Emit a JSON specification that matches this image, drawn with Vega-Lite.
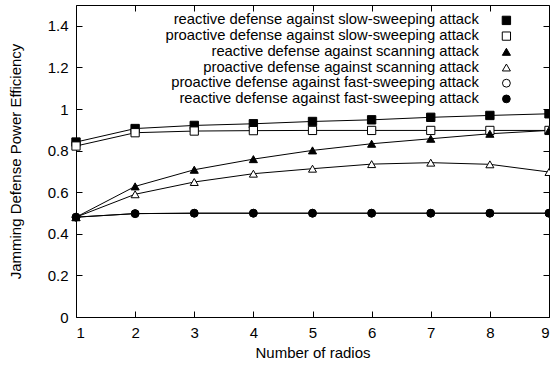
{
  "$schema": "https://vega.github.io/schema/vega-lite/v6.json",
  "width": 473,
  "height": 312,
  "autosize": "none",
  "padding": {"left": 76, "top": 5, "right": 1, "bottom": 50},
  "background": "white",
  "config": {
    "font": "Liberation Sans",
    "view": {"stroke": "black", "strokeWidth": 1},
    "axis": {"grid": false, "domain": false, "ticks": true, "zindex": 1, "tickOpacity": 1, "tickColor": "black", "tickWidth": 1, "tickSize": -6, "labelColor": "black", "labelFontSize": 15, "labelFont": "Liberation Sans", "titleFont": "Liberation Sans", "titleFontSize": 15, "titleColor": "black", "titleFontWeight": "normal"},
    "legend": {"title": null, "orient": "none", "legendX": 423, "legendY": 8, "labelAlign": "right", "labelOffset": -35, "labelFontSize": 14.8, "labelFont": "Liberation Sans", "labelColor": "black", "labelLimit": 0, "rowPadding": -0.3, "symbolStrokeWidth": 1, "padding": 0}
  },
  "data": {"values": [
    {"radios": 1, "value": 0.841, "series": "reactive defense against slow-sweeping attack"},
    {"radios": 2, "value": 0.906, "series": "reactive defense against slow-sweeping attack"},
    {"radios": 3, "value": 0.921, "series": "reactive defense against slow-sweeping attack"},
    {"radios": 4, "value": 0.929, "series": "reactive defense against slow-sweeping attack"},
    {"radios": 5, "value": 0.940, "series": "reactive defense against slow-sweeping attack"},
    {"radios": 6, "value": 0.948, "series": "reactive defense against slow-sweeping attack"},
    {"radios": 7, "value": 0.960, "series": "reactive defense against slow-sweeping attack"},
    {"radios": 8, "value": 0.969, "series": "reactive defense against slow-sweeping attack"},
    {"radios": 9, "value": 0.977, "series": "reactive defense against slow-sweeping attack"},
    {"radios": 1, "value": 0.822, "series": "proactive defense against slow-sweeping attack"},
    {"radios": 2, "value": 0.886, "series": "proactive defense against slow-sweeping attack"},
    {"radios": 3, "value": 0.894, "series": "proactive defense against slow-sweeping attack"},
    {"radios": 4, "value": 0.896, "series": "proactive defense against slow-sweeping attack"},
    {"radios": 5, "value": 0.897, "series": "proactive defense against slow-sweeping attack"},
    {"radios": 6, "value": 0.897, "series": "proactive defense against slow-sweeping attack"},
    {"radios": 7, "value": 0.897, "series": "proactive defense against slow-sweeping attack"},
    {"radios": 8, "value": 0.897, "series": "proactive defense against slow-sweeping attack"},
    {"radios": 9, "value": 0.897, "series": "proactive defense against slow-sweeping attack"},
    {"radios": 1, "value": 0.48, "series": "reactive defense against scanning attack"},
    {"radios": 2, "value": 0.628, "series": "reactive defense against scanning attack"},
    {"radios": 3, "value": 0.708, "series": "reactive defense against scanning attack"},
    {"radios": 4, "value": 0.759, "series": "reactive defense against scanning attack"},
    {"radios": 5, "value": 0.801, "series": "reactive defense against scanning attack"},
    {"radios": 6, "value": 0.833, "series": "reactive defense against scanning attack"},
    {"radios": 7, "value": 0.857, "series": "reactive defense against scanning attack"},
    {"radios": 8, "value": 0.881, "series": "reactive defense against scanning attack"},
    {"radios": 9, "value": 0.897, "series": "reactive defense against scanning attack"},
    {"radios": 1, "value": 0.48, "series": "proactive defense against scanning attack"},
    {"radios": 2, "value": 0.590, "series": "proactive defense against scanning attack"},
    {"radios": 3, "value": 0.649, "series": "proactive defense against scanning attack"},
    {"radios": 4, "value": 0.689, "series": "proactive defense against scanning attack"},
    {"radios": 5, "value": 0.713, "series": "proactive defense against scanning attack"},
    {"radios": 6, "value": 0.735, "series": "proactive defense against scanning attack"},
    {"radios": 7, "value": 0.742, "series": "proactive defense against scanning attack"},
    {"radios": 8, "value": 0.734, "series": "proactive defense against scanning attack"},
    {"radios": 9, "value": 0.697, "series": "proactive defense against scanning attack"},
    {"radios": 1, "value": 0.48, "series": "proactive defense against fast-sweeping attack"},
    {"radios": 2, "value": 0.497, "series": "proactive defense against fast-sweeping attack"},
    {"radios": 3, "value": 0.499, "series": "proactive defense against fast-sweeping attack"},
    {"radios": 4, "value": 0.499, "series": "proactive defense against fast-sweeping attack"},
    {"radios": 5, "value": 0.499, "series": "proactive defense against fast-sweeping attack"},
    {"radios": 6, "value": 0.499, "series": "proactive defense against fast-sweeping attack"},
    {"radios": 7, "value": 0.499, "series": "proactive defense against fast-sweeping attack"},
    {"radios": 8, "value": 0.499, "series": "proactive defense against fast-sweeping attack"},
    {"radios": 9, "value": 0.499, "series": "proactive defense against fast-sweeping attack"},
    {"radios": 1, "value": 0.48, "series": "reactive defense against fast-sweeping attack"},
    {"radios": 2, "value": 0.497, "series": "reactive defense against fast-sweeping attack"},
    {"radios": 3, "value": 0.499, "series": "reactive defense against fast-sweeping attack"},
    {"radios": 4, "value": 0.499, "series": "reactive defense against fast-sweeping attack"},
    {"radios": 5, "value": 0.499, "series": "reactive defense against fast-sweeping attack"},
    {"radios": 6, "value": 0.499, "series": "reactive defense against fast-sweeping attack"},
    {"radios": 7, "value": 0.499, "series": "reactive defense against fast-sweeping attack"},
    {"radios": 8, "value": 0.499, "series": "reactive defense against fast-sweeping attack"},
    {"radios": 9, "value": 0.499, "series": "reactive defense against fast-sweeping attack"}
  ]},
  "resolve": {"axis": {"x": "independent", "y": "independent"}},
  "layer": [
    {
      "mark": {"type": "line", "color": "black", "strokeWidth": 1},
      "encoding": {
        "x": {"field": "radios", "type": "quantitative", "scale": {"domain": [1, 9], "nice": false, "zero": false}, "axis": {"orient": "top", "values": [1,2,3,4,5,6,7,8,9], "labels": false, "title": null}},
        "y": {"field": "value", "type": "quantitative", "scale": {"domain": [0, 1.5], "nice": false}, "axis": {"orient": "right", "values": [0,0.2,0.4,0.6,0.8,1,1.2,1.4], "labels": false, "title": null}},
        "detail": {"field": "series"},
        "order": {"field": "radios"}
      }
    },
    {
      "mark": {"type": "point", "strokeWidth": 1, "opacity": 1, "filled": false},
      "encoding": {
        "x": {"field": "radios", "type": "quantitative", "scale": {"domain": [1, 9], "nice": false, "zero": false}, "axis": {"orient": "bottom", "values": [1,2,3,4,5,6,7,8,9], "format": "d", "title": "Number of radios", "labelPadding": 14, "titlePadding": 5}},
        "y": {"field": "value", "type": "quantitative", "scale": {"domain": [0, 1.5], "nice": false}, "axis": {"orient": "left", "values": [0,0.2,0.4,0.6,0.8,1,1.2,1.4], "format": "~g", "title": "Jamming Defense Power Efficiency", "labelPadding": 14, "titlePadding": 24}},
        "shape": {"field": "series", "type": "nominal", "scale": {"domain": ["reactive defense against slow-sweeping attack", "proactive defense against slow-sweeping attack", "reactive defense against scanning attack", "proactive defense against scanning attack", "proactive defense against fast-sweeping attack", "reactive defense against fast-sweeping attack"], "range": ["square", "square", "triangle-up", "triangle-up", "circle", "circle"]}},
        "fill": {"field": "series", "type": "nominal", "scale": {"domain": ["reactive defense against slow-sweeping attack", "proactive defense against slow-sweeping attack", "reactive defense against scanning attack", "proactive defense against scanning attack", "proactive defense against fast-sweeping attack", "reactive defense against fast-sweeping attack"], "range": ["black", "white", "black", "white", "white", "black"]}},
        "stroke": {"field": "series", "type": "nominal", "scale": {"domain": ["reactive defense against slow-sweeping attack", "proactive defense against slow-sweeping attack", "reactive defense against scanning attack", "proactive defense against scanning attack", "proactive defense against fast-sweeping attack", "reactive defense against fast-sweeping attack"], "range": ["black", "black", "black", "black", "black", "black"]}},
        "size": {"field": "series", "type": "nominal", "scale": {"domain": ["reactive defense against slow-sweeping attack", "proactive defense against slow-sweeping attack", "reactive defense against scanning attack", "proactive defense against scanning attack", "proactive defense against fast-sweeping attack", "reactive defense against fast-sweeping attack"], "range": [70, 60, 40, 40, 60, 70]}}
      }
    }
  ]
}
